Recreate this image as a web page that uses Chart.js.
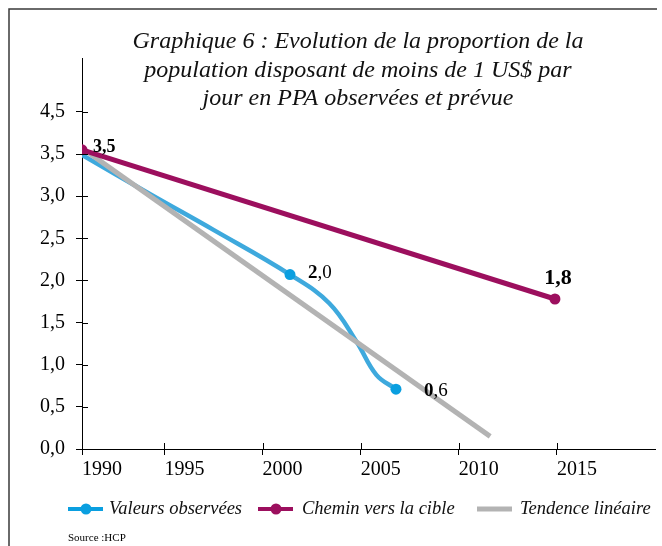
<!DOCTYPE html>
<html>
<head>
<meta charset="utf-8">
<script src="https://cdn.jsdelivr.net/npm/chart.js@4.4.0/dist/chart.umd.min.js"></script>
<style>
    html, body { margin: 0; padding: 0; background: #fff; }
    #wrap { width: 662px; height: 546px; position: relative; }
</style>
</head>
<body>
<div id="wrap"><canvas id="chart"></canvas></div>
<script>
// Axis origin sits a little after 1990 in the original; its tick is still labelled "1990"
const xMin = 1990.8;
const xMax = 2020;
const xTickValues = [1990.8, 1995, 2000, 2005, 2010, 2015];
const xTickLabels = ['1990', '1995', '2000', '2005', '2010', '2015'];

// The original skips "4,0": its top label "4,5" stands at the 4.0 gridline
const yMax = 4.64;
const yTickValues = [0, 0.5, 1, 1.5, 2, 2.5, 3, 3.5, 4];
const yTickLabels = ['0,0', '0,5', '1,0', '1,5', '2,0', '2,5', '3,0', '3,5', '4,5'];

// Valeurs observées (smoothed curve)
const obsYears  = [1990.8, 1994.3, 1997.5, 2001.4, 2003.4, 2004.8, 2005.8, 2006.8];
const obsValues = [3.49,   3.02,   2.60,   2.07,   1.73,   1.27,   0.88,   0.71];
const obsMarked = [false, false, false, true, false, false, false, true];

// Chemin vers la cible
const targetYears  = [1990.8, 2014.9];
const targetValues = [3.55, 1.78];

// Tendance linéaire
const trendYears  = [1990.8, 2011.6];
const trendValues = [3.57, 0.15];

const seriesNames = ['Valeurs observées', 'Chemin vers la cible', 'Tendence linéaire'];

const titleLines = [
    'Graphique 6 : Evolution de la proportion de la',
    'population disposant de moins de 1 US$ par',
    'jour en PPA observées et prévue'
];
const sourceText = 'Source :HCP';

const BLUE = '#3ea9dd';
const BLUE_DOT = '#0a9fe0';
const PURPLE = '#9c0f5e';
const GRAY = '#b3b3b3';
const SERIF = '"Liberation Serif", "Times New Roman", serif';

function toPoints(xs, ys) {
    return xs.map((x, i) => ({ x: x, y: ys[i] }));
}

// Frame, title, point labels, legend and source
const decorPlugin = {
    id: 'decor',
    afterDraw(chart) {
        const ctx = chart.ctx;
        const xs = chart.scales.x;
        const ys = chart.scales.y;
        ctx.save();

        // frame (top and left edges)
        ctx.strokeStyle = '#3a3a3a';
        ctx.lineWidth = 1.5;
        ctx.beginPath();
        ctx.moveTo(9, 546);
        ctx.lineTo(9, 9);
        ctx.lineTo(657, 9);
        ctx.stroke();

        // inner half of the tick marks
        ctx.strokeStyle = '#000';
        ctx.lineWidth = 1;
        ctx.beginPath();
        xs.ticks.forEach(t => {
            const px = Math.round(xs.getPixelForValue(t.value)) + 0.5;
            ctx.moveTo(px, ys.bottom);
            ctx.lineTo(px, ys.bottom - 6);
        });
        ys.ticks.forEach(t => {
            const py = Math.round(ys.getPixelForValue(t.value)) + 0.5;
            ctx.moveTo(xs.left, py);
            ctx.lineTo(xs.left + 6, py);
        });
        ctx.stroke();

        // title
        ctx.fillStyle = '#111';
        ctx.font = 'italic 24px ' + SERIF;
        ctx.textAlign = 'center';
        ctx.textBaseline = 'alphabetic';
        titleLines.forEach((line, i) => ctx.fillText(line, 358, 48 + i * 28.5));

        // point labels
        const px = (x) => xs.getPixelForValue(x);
        const py = (y) => ys.getPixelForValue(y);
        ctx.textAlign = 'left';
        ctx.fillStyle = '#000';

        ctx.font = 'bold 18px ' + SERIF;
        ctx.fillText('3,5', px(targetYears[0]) + 11, py(targetValues[0]) + 2);

        ctx.font = 'bold 22px ' + SERIF;
        ctx.textAlign = 'center';
        ctx.fillText('1,8', px(targetYears[1]) + 3, py(targetValues[1]) - 15);
        ctx.textAlign = 'left';

        function mixedLabel(text, x, y) {
            ctx.font = 'bold 19px ' + SERIF;
            ctx.fillText(text[0], x, y);
            const w = ctx.measureText(text[0]).width;
            ctx.font = '19px ' + SERIF;
            ctx.fillText(text.slice(1), x + w, y);
        }
        mixedLabel('2,0', px(obsYears[3]) + 18, py(obsValues[3]) + 3);
        mixedLabel('0,6', px(obsYears[7]) + 28, py(obsValues[7]) + 7);

        // legend
        const ly = 509;
        const items = [
            { x: 68, color: BLUE_DOT, dot: true, text: seriesNames[0], tx: 109 },
            { x: 258, color: PURPLE, dot: true, text: seriesNames[1], tx: 302 },
            { x: 477, color: GRAY, dot: false, text: seriesNames[2], tx: 520 }
        ];
        items.forEach(it => {
            ctx.strokeStyle = it.color;
            ctx.lineWidth = it.dot ? 4 : 5;
            ctx.beginPath();
            ctx.moveTo(it.x, ly);
            ctx.lineTo(it.x + 35, ly);
            ctx.stroke();
            if (it.dot) {
                ctx.fillStyle = it.color;
                ctx.beginPath();
                ctx.arc(it.x + 18, ly, 5.5, 0, Math.PI * 2);
                ctx.fill();
            }
            ctx.fillStyle = '#111';
            ctx.font = 'italic 18.5px ' + SERIF;
            ctx.textBaseline = 'middle';
            ctx.fillText(it.text, it.tx, ly);
        });

        // source
        ctx.textBaseline = 'alphabetic';
        ctx.font = '11px ' + SERIF;
        ctx.fillStyle = '#000';
        ctx.fillText(sourceText, 68, 541);

        ctx.restore();
    }
};

new Chart(document.getElementById('chart'), {
    type: 'line',
    data: {
        datasets: [
            {
                label: seriesNames[1],
                data: toPoints(targetYears, targetValues),
                borderColor: PURPLE,
                backgroundColor: PURPLE,
                borderWidth: 5,
                pointRadius: 5.5,
                pointBorderWidth: 0,
                tension: 0,
                order: 0
            },
            {
                label: seriesNames[2],
                data: toPoints(trendYears, trendValues),
                borderColor: GRAY,
                backgroundColor: GRAY,
                borderWidth: 5,
                pointRadius: 0,
                tension: 0,
                order: 1
            },
            {
                label: seriesNames[0],
                data: toPoints(obsYears, obsValues),
                borderColor: BLUE,
                backgroundColor: BLUE_DOT,
                borderWidth: 4.5,
                pointRadius: obsMarked.map(m => m ? 5.5 : 0),
                pointBorderWidth: 0,
                tension: 0.4,
                order: 2
            }
        ]
    },
    options: {
        responsive: true,
        maintainAspectRatio: false,
        animation: false,
        devicePixelRatio: 1,
        layout: { padding: { top: 58, right: 7, bottom: 0, left: 0 } },
        plugins: {
            legend: { display: false },
            tooltip: { enabled: false }
        },
        scales: {
            x: {
                type: 'linear',
                min: xMin,
                max: xMax,
                afterBuildTicks: s => { s.ticks = xTickValues.map(v => ({ value: v })); },
                afterFit: s => { s.height = 97; },
                ticks: {
                    callback: (v, i) => xTickLabels[i],
                    font: { family: SERIF, size: 20 },
                    color: '#000',
                    align: 'start',
                    padding: 3,
                    maxRotation: 0,
                    autoSkip: false
                },
                grid: { drawOnChartArea: false, tickLength: 6, color: '#000' },
                border: { color: '#000', width: 1 }
            },
            y: {
                min: 0,
                max: yMax,
                afterBuildTicks: s => { s.ticks = yTickValues.map(v => ({ value: v })); },
                afterFit: s => { s.width = 82; },
                ticks: {
                    callback: (v, i) => yTickLabels[i],
                    font: { family: SERIF, size: 20 },
                    color: '#000',
                    padding: 11,
                    autoSkip: false
                },
                grid: { drawOnChartArea: false, tickLength: 6, color: '#000' },
                border: { color: '#000', width: 1 }
            }
        }
    },
    plugins: [decorPlugin]
});
</script>
</body>
</html>
